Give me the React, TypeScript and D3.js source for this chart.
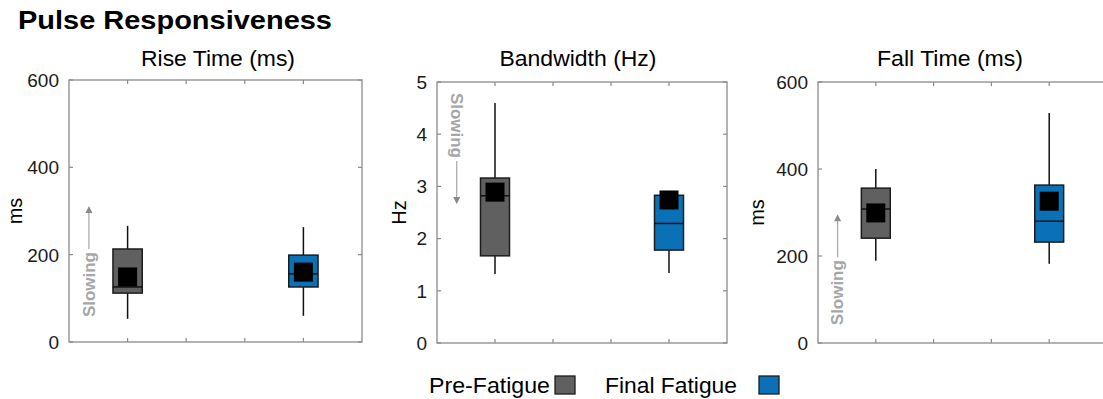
import React from "react";
import * as d3 from "d3";

const categories = ["Pre-Fatigue", "Final Fatigue"];
const positions = [1, 4];
const colors = ["#606060", "#0a71b6"];

const riseLow = [53, 60];
const riseQ1 = [112, 126];
const riseMed = [126, 156];
const riseQ3 = [213, 199];
const riseHigh = [266, 263];
const riseMean = [149, 160];

const bwLow = [1.32, 1.34];
const bwQ1 = [1.67, 1.78];
const bwMed = [2.82, 2.29];
const bwQ3 = [3.16, 2.83];
const bwHigh = [4.6, 2.83];
const bwMean = [2.89, 2.74];

const fallLow = [189, 182];
const fallQ1 = [241, 232];
const fallMed = [308, 280];
const fallQ3 = [356, 363];
const fallHigh = [400, 529];
const fallMean = [299, 326];

const riseTicks = [0, 200, 400, 600];
const bwTicks = [0, 1, 2, 3, 4, 5];
const fallTicks = [0, 200, 400, 600];
const xTicks = [1, 2, 3, 4];

const FONT = "Liberation Sans, Arial, Helvetica, sans-serif";

type PanelProps = {
  title: string;
  titleX: number;
  titleLen: number;
  ylabel: string;
  ylabelX: number;
  left: number;
  right: number;
  top: number;
  bottom: number;
  domain: [number, number];
  ticks: number[];
  low: number[];
  q1: number[];
  med: number[];
  q3: number[];
  high: number[];
  mean: number[];
  slowStart: number;
  slowUp: boolean;
};

function Panel(p: PanelProps) {
  const x = d3.scaleLinear().domain([0, 5]).range([p.left, p.right]);
  const y = d3.scaleLinear().domain(p.domain).range([p.bottom, p.top]);
  const axisColor = "#8a8a8a";
  const tickLen = 4;
  const boxW = x(0.5) - x(0);
  const meanSize = 19;
  const ax = x(0.34);
  const sy = y(p.slowStart);
  const dir = p.slowUp ? -1 : 1;
  const textLen = 65;
  const lineStart = sy + dir * (textLen + 3);
  const lineEnd = lineStart + dir * 36;
  const tip = lineEnd + dir * 7;
  return (
    <g>
      <text
        x={p.titleX}
        y={66}
        textAnchor="middle"
        fontFamily={FONT}
        fontSize={21.5}
        fill="#000"
        textLength={p.titleLen}
        lengthAdjust="spacingAndGlyphs"
      >
        {p.title}
      </text>
      <text
        transform={`translate(${p.ylabelX},${(p.top + p.bottom) / 2}) rotate(-90)`}
        textAnchor="middle"
        fontFamily={FONT}
        fontSize={20}
        fill="#000"
        dy="0.35em"
      >
        {p.ylabel}
      </text>
      <rect
        x={p.left}
        y={p.top}
        width={p.right - p.left}
        height={p.bottom - p.top}
        fill="#fff"
        stroke={axisColor}
        strokeWidth={1.3}
      />
      {p.ticks.map((t) => (
        <g key={"y" + t}>
          <line x1={p.left} x2={p.left + tickLen} y1={y(t)} y2={y(t)} stroke={axisColor} strokeWidth={1.2} />
          <line x1={p.right} x2={p.right - tickLen} y1={y(t)} y2={y(t)} stroke={axisColor} strokeWidth={1.2} />
          <text
            x={p.left - 10}
            y={y(t)}
            dy="0.36em"
            textAnchor="end"
            fontFamily={FONT}
            fontSize={19}
            fill="#1a1a1a"
          >
            {t}
          </text>
        </g>
      ))}
      {xTicks.map((t) => (
        <g key={"x" + t}>
          <line x1={x(t)} x2={x(t)} y1={p.bottom} y2={p.bottom - tickLen} stroke={axisColor} strokeWidth={1.2} />
          <line x1={x(t)} x2={x(t)} y1={p.top} y2={p.top + tickLen} stroke={axisColor} strokeWidth={1.2} />
        </g>
      ))}
      <text
        transform={`translate(${ax},${sy}) rotate(${p.slowUp ? -90 : 90})`}
        textAnchor="start"
        dy="0.36em"
        fontFamily={FONT}
        fontSize={16}
        fontWeight="bold"
        fill="#a6a6a6"
        textLength={textLen}
        lengthAdjust="spacingAndGlyphs"
      >
        Slowing
      </text>
      <line x1={ax} x2={ax} y1={lineStart} y2={lineEnd} stroke="#a6a6a6" strokeWidth={1.2} />
      <path
        d={`M${ax - 3.5},${lineEnd} L${ax + 3.5},${lineEnd} L${ax},${tip} Z`}
        fill="#8a8a8a"
      />
      {positions.map((pos, i) => {
        const cx = x(pos);
        return (
          <g key={"b" + i}>
            <line x1={cx} x2={cx} y1={y(p.high[i])} y2={y(p.q3[i])} stroke="#111" strokeWidth={1.5} />
            <line x1={cx} x2={cx} y1={y(p.q1[i])} y2={y(p.low[i])} stroke="#111" strokeWidth={1.5} />
            <rect
              x={cx - boxW / 2}
              y={y(p.q3[i])}
              width={boxW}
              height={y(p.q1[i]) - y(p.q3[i])}
              fill={colors[i]}
              stroke="#1c1c1c"
              strokeWidth={1.5}
            />
            <line
              x1={cx - boxW / 2}
              x2={cx + boxW / 2}
              y1={y(p.med[i])}
              y2={y(p.med[i])}
              stroke="#111"
              strokeWidth={1.5}
            />
            <rect
              x={cx - meanSize / 2}
              y={y(p.mean[i]) - meanSize / 2}
              width={meanSize}
              height={meanSize}
              fill="#000"
            />
          </g>
        );
      })}
    </g>
  );
}

export default function App() {
  return (
    <svg width={1103} height={399} style={{ display: "block", position: "absolute", left: 0, top: 0 }}>
      <rect width={1103} height={399} fill="#fff" />
      <text
        x={18}
        y={29}
        fontFamily={FONT}
        fontSize={26}
        fontWeight="bold"
        fill="#000"
        textLength={314}
        lengthAdjust="spacingAndGlyphs"
      >
        Pulse Responsiveness
      </text>
      <Panel
        title="Rise Time (ms)"
        titleX={218}
        titleLen={154}
        ylabel="ms"
        ylabelX={15}
        left={69}
        right={362}
        top={80}
        bottom={342}
        domain={[0, 600]}
        ticks={riseTicks}
        low={riseLow}
        q1={riseQ1}
        med={riseMed}
        q3={riseQ3}
        high={riseHigh}
        mean={riseMean}
        slowStart={57}
        slowUp={true}
      />
      <Panel
        title="Bandwidth (Hz)"
        titleX={578}
        titleLen={157}
        ylabel="Hz"
        ylabelX={399}
        left={437}
        right={727}
        top={82}
        bottom={343}
        domain={[0, 5]}
        ticks={bwTicks}
        low={bwLow}
        q1={bwQ1}
        med={bwMed}
        q3={bwQ3}
        high={bwHigh}
        mean={bwMean}
        slowStart={4.79}
        slowUp={false}
      />
      <Panel
        title="Fall Time (ms)"
        titleX={950}
        titleLen={146}
        ylabel="ms"
        ylabelX={757}
        left={818}
        right={1107}
        top={82}
        bottom={343}
        domain={[0, 600]}
        ticks={fallTicks}
        low={fallLow}
        q1={fallQ1}
        med={fallMed}
        q3={fallQ3}
        high={fallHigh}
        mean={fallMean}
        slowStart={41}
        slowUp={true}
      />
      <g>
        <text
          x={429}
          y={393}
          fontFamily={FONT}
          fontSize={21.5}
          fill="#000"
          textLength={121}
          lengthAdjust="spacingAndGlyphs"
        >
          {categories[0]}
        </text>
        <rect x={555} y={376} width={20} height={18} fill={colors[0]} stroke="#1c1c1c" strokeWidth={1.3} />
        <text
          x={605}
          y={393}
          fontFamily={FONT}
          fontSize={21.5}
          fill="#000"
          textLength={132}
          lengthAdjust="spacingAndGlyphs"
        >
          {categories[1]}
        </text>
        <rect x={759} y={376} width={20} height={18} fill={colors[1]} stroke="#1c1c1c" strokeWidth={1.3} />
      </g>
    </svg>
  );
}
